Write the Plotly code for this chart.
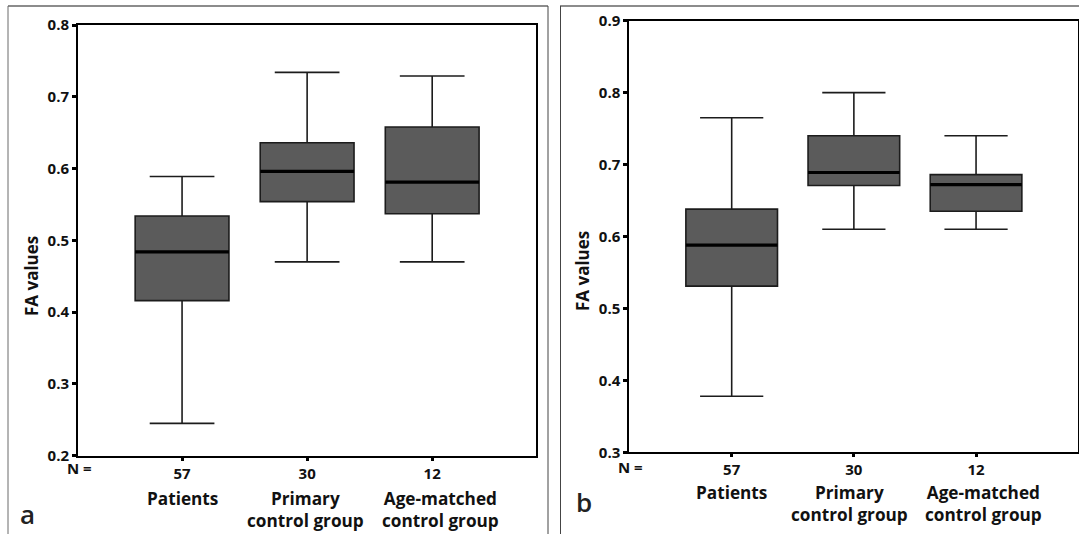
import plotly.graph_objects as go

W, H = 1079, 534

# ---------------- data ----------------
groups = ["Patients", "Primary<br>control group", "Age-matched<br>control group"]
n_labels = ["57", "30", "12"]
positions = [0, 1, 2]

a_lower = [0.245, 0.470, 0.470]
a_q1 = [0.416, 0.554, 0.537]
a_median = [0.484, 0.596, 0.581]
a_q3 = [0.534, 0.636, 0.658]
a_upper = [0.589, 0.734, 0.729]

b_lower = [0.378, 0.610, 0.610]
b_q1 = [0.531, 0.671, 0.635]
b_median = [0.588, 0.689, 0.672]
b_q3 = [0.638, 0.740, 0.686]
b_upper = [0.765, 0.800, 0.740]

a_ticks = [0.2, 0.3, 0.4, 0.5, 0.6, 0.7, 0.8]
b_ticks = [0.3, 0.4, 0.5, 0.6, 0.7, 0.8, 0.9]

BOX_W = 0.75
FILL = "#5b5b5b"
EDGE = "#1c1c1c"
FONT = "Open Sans"


def px(x):
    return x / W


def py(y):
    return 1 - y / H


fig = go.Figure()


def add_panel(xa, ya, lower, q1, med, q3, upper):
    fig.add_trace(go.Box(
        x=positions, lowerfence=lower, q1=q1, median=med, q3=q3, upperfence=upper,
        width=BOX_W, whiskerwidth=0.69, fillcolor=FILL,
        line=dict(color=EDGE, width=1.6), boxpoints=False,
        xaxis=xa, yaxis=ya, hoverinfo="skip",
    ))
    mx, my = [], []
    for p, m in zip(positions, med):
        mx += [p - BOX_W / 2, p + BOX_W / 2, None]
        my += [m, m, None]
    fig.add_trace(go.Scatter(
        x=mx, y=my, mode="lines", line=dict(color="#000000", width=3.2),
        xaxis=xa, yaxis=ya, hoverinfo="skip",
    ))


add_panel("x", "y", a_lower, a_q1, a_median, a_q3, a_upper)
add_panel("x2", "y2", b_lower, b_q1, b_median, b_q3, b_upper)

tickfont = dict(family=FONT, size=15, color="#111111", weight="bold")
xtickfont = dict(family=FONT, size=15, color="#111111", weight="bold")

common_x = dict(
    tickvals=positions, ticktext=n_labels, showline=True, linecolor="#000", linewidth=2,
    mirror=True, ticks="outside", ticklen=3, tickwidth=3, tickcolor="#000",
    showgrid=False, zeroline=False, tickfont=xtickfont, fixedrange=True, automargin=False,
)
common_y = dict(
    showline=True, linecolor="#000", linewidth=2, mirror=True, ticks="outside",
    ticklen=4, tickwidth=3, tickcolor="#000", showgrid=False, zeroline=False,
    tickformat=".1f", tickfont=tickfont, fixedrange=True, automargin=False,
)

fig.update_layout(
    width=W, height=H, margin=dict(l=0, r=0, t=0, b=0, pad=0), autosize=False,
    paper_bgcolor="white", plot_bgcolor="white", showlegend=False,
    xaxis=dict(domain=[px(78), px(536)], range=[-0.832, 2.83], anchor="y", **common_x),
    yaxis=dict(domain=[py(455.7), py(25)], range=[0.2, 0.8], tickvals=a_ticks, anchor="x", **common_y),
    xaxis2=dict(domain=[px(629.3), px(1077.7)], range=[-0.838, 2.832], anchor="y2", **common_x),
    yaxis2=dict(domain=[py(452.3), py(20.7)], range=[0.3, 0.9], tickvals=b_ticks, anchor="x2", **common_y),
)

bold_cat = dict(family=FONT, size=17.2, color="#111111", weight="bold")
ann = []
for xr, ytop, shifts, nx, ny, ttlx, ttly, lab, labx, laby in [
    ("x", 485, [0, -2, 8], 79, 468, 31, 276, "a", 27, 514),
    ("x2", 479, [0, -4, 7.5], 630, 467, 582, 271, "b", 584, 502),
]:
    for p, g, s in zip(positions, groups, shifts):
        ann.append(dict(x=p, xref=xr, y=py(ytop), yref="paper", text=g, showarrow=False,
                        xanchor="center", yanchor="top", font=bold_cat, align="center", xshift=s))
    ann.append(dict(x=px(nx), y=py(ny), xref="paper", yref="paper", text="N =", showarrow=False,
                    xanchor="center", yanchor="middle",
                    font=dict(family=FONT, size=15, color="#111111", weight="bold")))
    ann.append(dict(x=px(ttlx), y=py(ttly), xref="paper", yref="paper", text="FA values",
                    showarrow=False, textangle=-90, xanchor="center", yanchor="middle",
                    font=dict(family=FONT, size=17, color="#111111", weight="bold")))
    ann.append(dict(x=px(labx), y=py(laby), xref="paper", yref="paper", text=lab,
                    showarrow=False, xanchor="center", yanchor="middle",
                    font=dict(family=FONT, size=26, color="#222222", weight=600)))
fig.update_layout(annotations=ann)

shapes = [
    dict(type="line", xref="paper", yref="paper", x0=px(8), x1=px(548), y0=py(6), y1=py(6),
         line=dict(color="#8c8c8c", width=2)),
    dict(type="line", xref="paper", yref="paper", x0=px(8), x1=px(8), y0=py(6), y1=0,
         line=dict(color="#6a6a6a", width=1)),
    dict(type="line", xref="paper", yref="paper", x0=px(548), x1=px(548), y0=py(6), y1=0,
         line=dict(color="#444444", width=1)),
    dict(type="line", xref="paper", yref="paper", x0=px(560), x1=1, y0=py(6), y1=py(6),
         line=dict(color="#8c8c8c", width=2)),
    dict(type="line", xref="paper", yref="paper", x0=px(560.5), x1=px(560.5), y0=py(6), y1=0,
         line=dict(color="#444444", width=1)),
]
fig.update_layout(shapes=shapes)

fig.write_html(
    "out.html",
    config={"displayModeBar": False},
    post_script="document.body.style.margin='0';document.body.style.overflow='hidden';",
)
